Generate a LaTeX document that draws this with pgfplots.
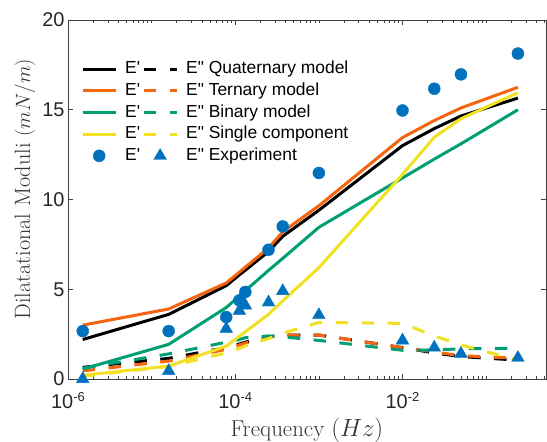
\documentclass[border=0pt]{standalone}
\usepackage{fontspec}
\usepackage{pgfplots}
\pgfplotsset{compat=1.18}
\usepackage{pgfplotstable}
\newfontfamily\arial{Liberation Sans}

\definecolor{cBlk}{RGB}{0,0,0}
\definecolor{cOrg}{RGB}{245,100,15}
\definecolor{cGrn}{RGB}{0,158,115}
\definecolor{cYel}{RGB}{242,224,35}
\definecolor{cBlu}{RGB}{0,114,189}

% exponent for the x tick labels
\newcommand{\ex}[1]{\raisebox{7bp}{\fontsize{13}{13}\selectfont #1}}

% f, then E' / E'' for quaternary, ternary, binary, single, experiment
\pgfplotstableread{
f        Qp     Qpp   Tp     Tpp   Bp     Bpp   Sp     Spp   Xp     Xpp
1.5e-6   2.2    0.65  3.0    0.45  0.55   0.6   0.21   0.15  2.67   0.0
1.6e-5   3.6    1.15  3.9    1.0   1.93   1.4   0.72   0.7   2.67   0.45
7.8e-5   5.2    1.75  5.35   1.65  3.98   2.05  1.83   1.45  3.45   2.8
1.12e-4  5.8    1.95  5.95   1.9   4.62   2.2   2.38   1.7   4.38   3.8
1.32e-4  6.06   2.05  6.23   2.0   4.92   2.3   2.63   1.85  4.85   4.1
2.5e-4   7.1    2.35  7.3    2.35  6.05   2.4   3.6    2.25  7.2    4.27
3.7e-4   7.95   2.45  8.2    2.45  6.72   2.35  4.35   2.55  8.5    4.9
1e-3     9.4    2.45  9.65   2.45  8.45   2.15  6.2    3.15  11.48  3.56
1e-2     13.0   1.75  13.45  1.75  11.2   1.6   11.4   3.1   14.96  2.15
2.4e-2   13.95  1.45  14.4   1.5   12.25  1.62  13.47  2.4   16.17  1.75
5e-2     14.65  1.25  15.1   1.3   13.1   1.68  14.5   1.9   16.97  1.41
2.4e-1   15.65  1.05  16.25  1.15  15.0   1.72  15.95  1.05  18.13  1.18
}\moduli

\pgfplotsset{
    mdl/.style={line width=3bp, mark=none},
    dsh/.style={line width=3bp, mark=none, dash pattern=on 12.5bp off 13.5bp},
}

\begin{document}
\begin{tikzpicture}
\begin{axis}[
    name=ax,
    scale only axis,
    width=478bp, height=359bp,
    xmode=log,
    xmin=1e-6, xmax=0.52,
    ymin=0, ymax=20,
    xtick={1e-6,1e-4,1e-2},
    xticklabels={{10\ex{-6}},{10\ex{-4}},{10\ex{-2}}},
    minor xtick={2e-6,3e-6,4e-6,5e-6,6e-6,7e-6,8e-6,9e-6,1e-5,
                 2e-5,3e-5,4e-5,5e-5,6e-5,7e-5,8e-5,9e-5,
                 2e-4,3e-4,4e-4,5e-4,6e-4,7e-4,8e-4,9e-4,1e-3,
                 2e-3,3e-3,4e-3,5e-3,6e-3,7e-3,8e-3,9e-3,
                 2e-2,3e-2,4e-2,5e-2,6e-2,7e-2,8e-2,9e-2,1e-1,
                 2e-1,3e-1,4e-1,5e-1},
    ytick={0,5,10,15,20},
    tick align=inside,
    xtick pos=both, ytick pos=both,
    major tick length=5bp, minor tick length=3bp,
    axis line style={line width=0.6bp, black!75},
    every tick/.style={black!75, line width=0.6bp},
    ticklabel style={font=\arial\fontsize{20}{24}\selectfont, text=black!85},
    /pgf/number format/assume math mode=true,
    xticklabel style={yshift=-10bp},
    xlabel={Frequency $(Hz)$},
    ylabel={Dilatational Moduli $(mN/m)$},
    every axis x label/.style={at={([yshift=-51.6bp]axis description cs:0.5,0)},
        anchor=center, font=\fontsize{23}{27}\selectfont, text=black!80},
    every axis y label/.style={at={([xshift=-43bp,yshift=10.5bp]axis description cs:0,0.5)},
        rotate=90, anchor=center, font=\fontsize{22.3}{26}\selectfont, text=black!80},
    clip=false,
    legend columns=2,
    legend cell align=left,
    legend style={at={(axis description cs:0,1)}, anchor=north west,
        xshift=13bp, yshift=-38bp, draw=none, fill=none, inner sep=0bp,
        font=\arial\fontsize{17.5}{21}\selectfont, row sep=0bp,
        nodes={inner xsep=2bp, inner ysep=2.7bp, text height=12.8bp, text depth=3.5bp},
        /tikz/every odd column/.append style={column sep=6bp}},
    legend image code/.code={\draw[mark repeat=2,mark phase=2,#1]
        plot coordinates {(0bp,0bp) (16.5bp,0bp) (33bp,0bp)};},
]
\addplot[cBlk,mdl] table[x=f,y=Qp]{\moduli};
\addlegendentry{E\textquotesingle}
\addplot[cBlk,dsh] table[x=f,y=Qpp]{\moduli};
\addlegendentry{E\textquotedbl\ Quaternary model}
\addplot[cOrg,mdl] table[x=f,y=Tp]{\moduli};
\addlegendentry{E\textquotesingle}
\addplot[cOrg,dsh] table[x=f,y=Tpp]{\moduli};
\addlegendentry{E\textquotedbl\ Ternary model}
\addplot[cGrn,mdl] table[x=f,y=Bp]{\moduli};
\addlegendentry{E\textquotesingle}
\addplot[cGrn,dsh] table[x=f,y=Bpp]{\moduli};
\addlegendentry{E\textquotedbl\ Binary model}
\addplot[cYel,mdl] table[x=f,y=Sp]{\moduli};
\addlegendentry{E\textquotesingle}
\addplot[cYel,dsh] table[x=f,y=Spp]{\moduli};
\addlegendentry{E\textquotedbl\ Single component}
\addplot[only marks, mark=*, mark size=6bp, line width=0.4bp, cBlu] table[x=f,y=Xp]{\moduli};
\addlegendentry{E\textquotesingle}
\addplot[only marks, mark=triangle*, mark size=7.3bp, line width=0.4bp, cBlu] table[x=f,y=Xpp]{\moduli};
\addlegendentry{E\textquotedbl\ Experiment}
\end{axis}
\pgfresetboundingbox
\path[use as bounding box] ([xshift=-68bp,yshift=-63bp]ax.south west)
    rectangle ([xshift=1bp,yshift=20bp]ax.north east);
\end{tikzpicture}
\end{document}
